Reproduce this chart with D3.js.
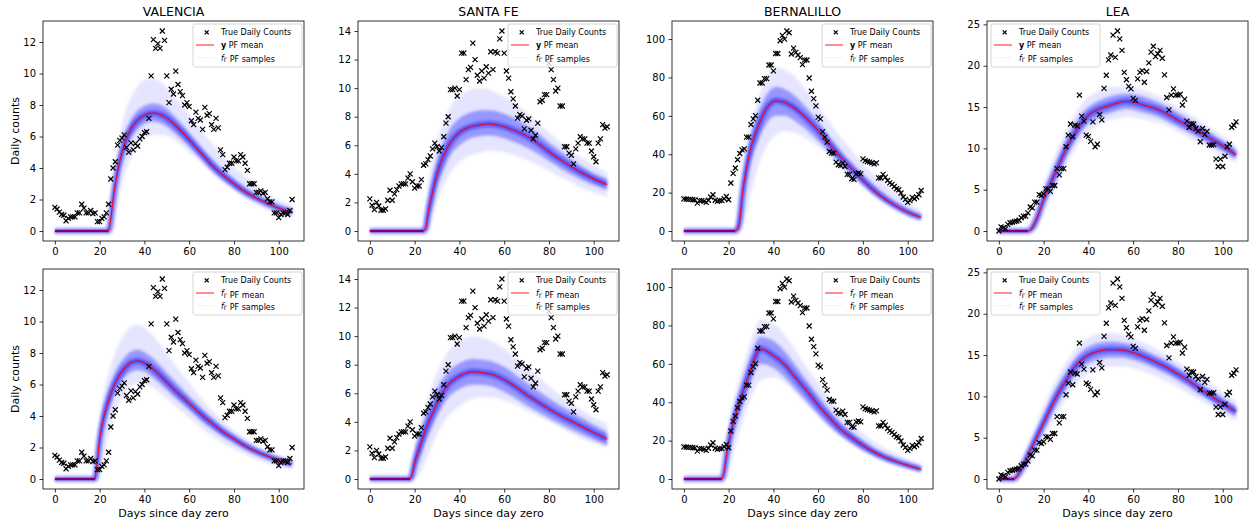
<!DOCTYPE html>
<html>
<head>
<meta charset="utf-8">
<script src="https://cdn.jsdelivr.net/npm/d3@7"></script>
<style>
  body { margin: 0; background: #fff; }
  svg { font-family: "DejaVu Sans", sans-serif; }
</style>
</head>
<body>
<svg id="chart" width="1249" height="522"></svg>
<script>
// observed daily counts, days 0..106
const valenciaCounts = [1.5,1.4,1.2,1.05,1.0,0.65,0.8,0.9,0.9,0.9,1.15,1.15,1.7,1.45,1.15,1.15,1.3,1.1,1.15,0.6,0.6,0.8,0.9,1.15,1.7,3.3,4.0,4.4,5.45,5.75,5.9,6.1,5.3,5.0,5.6,5.15,5.55,5.4,5.85,6.0,6.25,6.3,7.15,9.85,12.15,11.6,11.9,11.6,12.7,12.1,9.85,8.15,9.0,8.7,10.15,9.3,8.85,8.6,8.0,8.15,7.9,7.0,6.75,7.55,7.15,7.05,6.45,7.85,7.35,7.45,6.75,6.45,7.15,6.55,5.15,4.85,3.9,4.05,4.3,4.3,4.7,4.45,4.45,4.85,4.7,4.3,3.85,3.0,3.0,3.0,2.45,2.45,2.55,2.4,2.45,2.05,1.85,1.85,1.15,1.15,0.85,1.05,1.15,1.15,1.05,1.3,2.0];
const santaFeCounts = [2.25,1.8,1.5,2.0,1.75,1.45,1.45,1.55,2.15,2.85,2.15,2.6,2.9,3.15,3.3,3.3,3.3,3.7,4.0,3.45,3.0,3.15,3.15,3.6,4.6,4.7,5.0,5.25,5.75,6.15,5.9,5.6,5.85,6.6,7.55,8.0,9.9,9.9,10.0,9.45,9.9,12.45,12.45,10.6,11.3,11.45,13.15,12.0,10.9,10.5,11.2,10.7,11.5,11.05,12.55,11.3,12.55,12.45,13.45,14.0,12.45,11.2,10.7,9.75,9.25,8.75,7.9,8.15,8.05,7.15,7.75,7.85,7.05,6.45,6.7,7.55,9.05,9.15,9.55,9.55,11.75,11.3,10.6,9.8,10.0,8.75,8.75,5.9,5.9,5.45,5.3,4.7,5.75,6.15,6.6,6.45,6.45,6.15,6.15,5.6,5.2,4.85,6.15,6.45,7.45,7.2,7.3];
const bernalilloCounts = [16.7,16.6,16.5,16.5,16.3,16.2,14.5,15.8,15.8,15.4,14.9,16.0,17.7,18.9,16.0,15.4,15.8,15.8,16.8,18.0,16.3,25.0,30.0,32.8,37.1,40.4,42.3,42.8,48.9,48.9,55.5,58.4,60.1,68.1,77.1,77.1,79.4,79.4,86.5,86.5,83.4,92.5,92.5,99.1,101.9,100.0,104.2,103.3,92.2,95.3,93.1,91.7,90.3,86.7,89.1,89.1,79.7,72.8,69.0,65.2,59.3,58.4,51.8,48.9,46.3,41.4,40.6,40.6,35.9,34.5,34.1,35.4,33.6,29.5,29.5,27.2,26.9,29.8,30.2,29.8,37.6,36.7,36.2,35.9,35.5,35.0,35.5,27.7,27.6,29.5,28.1,26.3,25.1,24.3,23.2,22.0,21.5,19.8,17.7,16.5,14.9,15.8,17.5,16.8,17.7,18.9,21.1];
const leaCounts = [0.0,0.5,0.4,0.25,0.8,1.0,1.05,1.15,1.2,1.3,1.6,1.8,1.8,2.2,2.9,2.8,3.5,3.5,4.4,4.3,4.5,5.1,5.1,4.8,5.5,5.5,7.55,6.8,7.55,7.55,10.2,11.6,12.95,11.4,12.8,12.7,16.45,13.9,13.3,11.6,11.45,10.85,13.2,10.2,10.5,14.1,13.45,17.25,18.85,20.7,21.3,23.7,21.0,24.2,23.25,21.85,19.2,18.3,17.5,17.2,16.05,15.8,18.4,19.2,19.4,18.0,19.3,20.35,21.65,22.35,21.1,21.45,21.85,20.9,18.9,16.15,14.65,16.45,17.2,16.45,16.45,16.55,15.25,15.95,13.3,12.55,13.0,12.95,12.4,12.1,10.8,12.4,11.7,12.05,10.4,10.4,10.45,8.7,7.8,8.7,7.8,9.05,10.2,10.5,12.55,12.8,13.2];

// PF curves: knot days, mean, and sample spread (outer q05/q95, inner q25/q75)
const valTopKnots = [0,22,23,24,25,26,28,30,33,36,40,44,48,52,56,60,65,70,75,80,85,90,95,100,106];
const valTopMean = [0,0,0,0,0.8,2.0,3.8,5.0,6.2,6.9,7.35,7.5,7.35,6.95,6.4,5.8,5.0,4.2,3.55,3.0,2.5,2.1,1.75,1.45,1.2];
const valTopQ95 = [0,0,0.1,0.6,1.8,3.2,5.3,6.8,8.2,9.0,9.6,9.7,9.4,8.8,8.1,7.4,6.5,5.6,4.8,4.1,3.5,2.9,2.4,1.95,1.65];
const valTopQ05 = [0,0,0,0,0,0,1.5,3.0,4.3,5.2,5.9,6.1,6.1,5.9,5.5,5.0,4.4,3.7,3.1,2.6,2.1,1.7,1.35,1.05,0.85];
const valTopQ75 = [0,0,0,0.1,1.2,2.6,4.4,5.7,6.8,7.5,7.95,8.1,7.95,7.5,6.9,6.25,5.4,4.6,3.9,3.3,2.75,2.3,1.9,1.6,1.35];
const valTopQ25 = [0,0,0,0,0.4,1.5,3.2,4.4,5.6,6.3,6.8,6.95,6.8,6.4,5.9,5.35,4.6,3.85,3.25,2.7,2.25,1.9,1.58,1.3,1.05];

const valBotKnots = [0,16,17,18,19,20,22,25,28,31,34,37,41,45,50,55,60,65,70,75,80,85,90,95,100,106];
const valBotMean = [0,0,0,0,1.2,2.5,4.0,5.4,6.4,7.0,7.4,7.5,7.3,6.85,6.15,5.45,4.8,4.15,3.55,3.0,2.55,2.1,1.75,1.45,1.2,0.95];
const valBotQ95 = [0,0,0.2,0.9,2.5,3.8,5.6,7.2,8.4,9.2,9.7,9.8,9.5,8.9,8.0,7.0,6.1,5.2,4.4,3.7,3.1,2.6,2.15,1.8,1.5,1.25];
const valBotQ05 = [0,0,0,0,0,0.3,1.6,3.4,4.6,5.4,5.9,6.1,6.0,5.7,5.1,4.5,3.9,3.3,2.75,2.3,1.9,1.55,1.25,1.0,0.8,0.65];
const valBotQ75 = [0,0,0,0.3,2.0,3.3,4.8,6.1,7.1,7.7,8.1,8.2,7.95,7.5,6.75,6.0,5.25,4.55,3.9,3.3,2.8,2.35,1.95,1.6,1.35,1.1];
const valBotQ25 = [0,0,0,0,0.6,1.8,3.3,4.8,5.8,6.4,6.8,6.9,6.75,6.3,5.65,5.0,4.4,3.75,3.2,2.7,2.3,1.9,1.55,1.3,1.05,0.85];

const sfTopKnots = [0,22,23,24,25,26,27,28,30,33,36,40,45,50,53,56,60,65,70,75,80,85,90,95,100,106];
const sfTopMean = [0,0,0,0,0.2,1.2,2.0,2.7,4.0,5.3,6.2,6.9,7.3,7.45,7.5,7.45,7.3,7.0,6.65,6.15,5.55,5.0,4.5,4.05,3.65,3.25];
const sfTopQ95 = [0,0,0.2,0.8,2.0,3.2,4.2,5.0,6.3,7.7,8.7,9.5,9.9,10.0,9.9,9.7,9.4,8.9,8.3,7.6,6.9,6.2,5.6,5.1,4.6,4.1];
const sfTopQ05 = [0,0,0,0,0,0,0.3,0.9,2.0,3.2,4.1,4.8,5.3,5.5,5.6,5.6,5.5,5.3,5.0,4.6,4.2,3.8,3.4,3.0,2.7,2.4];
const sfTopQ75 = [0,0,0,0.1,0.9,2.1,3.0,3.7,5.0,6.3,7.2,7.9,8.3,8.45,8.45,8.4,8.2,7.85,7.4,6.85,6.2,5.6,5.0,4.5,4.05,3.65];
const sfTopQ25 = [0,0,0,0,0,0.5,1.2,1.8,3.1,4.3,5.3,6.0,6.5,6.65,6.7,6.65,6.5,6.2,5.85,5.4,4.9,4.4,3.95,3.55,3.2,2.85];

const sfBotKnots = [0,16,17,18,19,20,22,25,28,31,35,40,46,50,55,60,65,70,75,80,85,90,95,100,106];
const sfBotMean = [0,0,0,0,0.4,1.15,2.1,3.5,4.6,5.6,6.6,7.2,7.5,7.45,7.3,6.95,6.45,5.9,5.4,4.9,4.45,4.05,3.65,3.25,2.78];
const sfBotQ95 = [0,0,0.1,0.6,1.5,2.4,3.6,5.2,6.6,7.8,8.9,9.7,10.0,9.9,9.6,9.1,8.5,7.8,7.2,6.5,5.9,5.3,4.8,4.3,3.9];
const sfBotQ05 = [0,0,0,0,0,0,0.3,1.3,2.4,3.4,4.4,5.1,5.6,5.7,5.7,5.5,5.2,4.8,4.4,4.0,3.6,3.2,2.8,2.5,2.2];
const sfBotQ75 = [0,0,0,0.2,1.0,1.9,3.0,4.5,5.6,6.6,7.5,8.1,8.4,8.35,8.2,7.85,7.3,6.75,6.2,5.65,5.15,4.7,4.25,3.8,3.3];
const sfBotQ25 = [0,0,0,0,0,0.5,1.3,2.6,3.7,4.7,5.7,6.3,6.6,6.6,6.45,6.1,5.65,5.15,4.7,4.25,3.85,3.45,3.1,2.75,2.35];

const berTopKnots = [0,21,22,23,24,25,26,28,30,33,36,41,45,50,55,60,65,70,75,80,85,90,95,100,106];
const berTopMean = [0,0,0,0,1,6,17.7,33,43.7,54,62,67.8,67,63.6,58.4,52.3,45.4,38.5,32.4,26.5,21,16.5,12.8,9.8,7.0];
const berTopQ95 = [0,0,0.5,3,12,22,31,45,56,68,78,85,84,80,73,65,57,49,42,35,29,24,19.5,15.5,11];
const berTopQ05 = [0,0,0,0,0,0,2,10,20,33,42,50,52,51,48,44,39,33,28,23,18,14,10.5,7.5,5];
const berTopQ75 = [0,0,0,0.5,5,13,24,39,50,61,69,75,74,70,64,57,49.5,42,35.5,29.5,24,19,15,11.5,8.3];
const berTopQ25 = [0,0,0,0,0,2,9,25,36,46,54,60,60,57,52.5,47,41,35,29.5,24,19,15,11.5,8.6,6.0];

const berBotKnots = [0,15,16,17,18,19,20,22,25,28,31,34,40,45,50,55,60,65,70,75,80,85,90,95,100,106];
const berBotMean = [0,0,0,0,4,12,19,29,40.5,51,61,67.8,64.3,59.6,52.7,45.8,38.5,32,26,21.5,17.5,14,11.2,9,7.1,5.0];
const berBotQ95 = [0,0,0.5,3,10,20,28,40,53,65,76,83,81,75,67,58,50,42,35,29,24,19.5,16,13,10.5,8];
const berBotQ05 = [0,0,0,0,0,1,4,13,25,36,45,51,53,50,45,39,33,27.5,22.5,18,14.5,11.5,9,7,5.5,3.5];
const berBotQ75 = [0,0,0,0.5,7,16,24,35,47,58,68,74,72,66.5,59,51,43.5,36,29.5,24.5,20,16,13,10.5,8.5,6.3];
const berBotQ25 = [0,0,0,0,1,7,13,23,34,44,54,60,58,53,46.5,40,33.5,27.5,22.5,18.5,15,12,9.5,7.6,6,4.2];

const leaTopKnots = [0,11,12,13,14,15,17,20,23,26,30,35,40,45,50,57,65,70,75,80,85,90,95,100,106];
const leaTopMean = [0,0,0,0,0.1,0.4,1.5,3.85,5.7,7.5,9.9,12.3,14.0,14.8,15.25,15.7,15.2,14.8,14.2,13.4,12.7,11.9,11.1,10.3,9.2];
const leaTopQ95 = [0,0,0.1,0.4,0.9,1.6,3.2,5.6,7.8,9.8,12.1,14.6,16.2,17.0,17.4,17.5,17.0,16.5,15.8,15.0,14.2,13.3,12.4,11.5,10.3];
const leaTopQ05 = [0,0,0,0,0,0,0.4,2.2,4.0,5.6,7.9,10.3,12.0,12.9,13.4,13.8,13.5,13.2,12.7,12.0,11.3,10.6,9.9,9.1,8.2];
const leaTopQ75 = [0,0,0,0.1,0.4,0.9,2.3,4.7,6.8,8.6,11.0,13.4,15.0,15.8,16.3,16.6,16.2,15.7,15.1,14.3,13.5,12.6,11.8,10.9,9.8];
const leaTopQ25 = [0,0,0,0,0,0.1,0.9,3.0,4.9,6.5,8.9,11.3,13.0,13.8,14.3,14.8,14.3,13.9,13.3,12.6,11.9,11.2,10.4,9.7,8.7];

const leaBotKnots = [0,5,6,7,8,10,12,15,20,25,30,35,40,45,50,55,60,65,70,75,80,85,90,95,100,106];
const leaBotMean = [0,0,0,0,0.3,1.2,2.3,4.0,6.8,9.6,11.9,13.9,15.0,15.5,15.65,15.6,15.3,14.8,14.15,13.5,12.7,11.85,10.9,10.0,9.15,8.15];
const leaBotQ95 = [0,0,0.1,0.4,1.0,2.3,3.6,5.6,8.8,11.8,14.1,16.0,17.1,17.6,17.7,17.5,17.1,16.5,15.8,15.0,14.2,13.3,12.4,11.5,10.6,9.4];
const leaBotQ05 = [0,0,0,0,0,0.2,0.9,2.4,4.9,7.5,9.7,11.6,12.8,13.4,13.6,13.6,13.4,13.0,12.4,11.8,11.1,10.3,9.5,8.7,7.9,7.0];
const leaBotQ75 = [0,0,0,0.1,0.6,1.8,3.0,4.8,7.8,10.7,13.0,14.9,16.0,16.5,16.6,16.5,16.2,15.6,14.95,14.3,13.45,12.6,11.6,10.7,9.8,8.75];
const leaBotQ25 = [0,0,0,0,0.1,0.7,1.6,3.2,5.9,8.6,10.9,12.9,14.0,14.5,14.7,14.7,14.4,13.95,13.35,12.7,11.95,11.1,10.2,9.35,8.5,7.55];

// axis ticks
const dayTicks = [0,20,40,60,80,100];
const valenciaTicks = [0,2,4,6,8,10,12];
const santaFeTicks = [0,2,4,6,8,10,12,14];
const bernalilloTicks = [0,20,40,60,80,100];
const leaTicks = [0,5,10,15,20,25];

const counties = ['VALENCIA', 'SANTA FE', 'BERNALILLO', 'LEA'];
const countySeries = [valenciaCounts, santaFeCounts, bernalilloCounts, leaCounts];
const countyTicks = [valenciaTicks, santaFeTicks, bernalilloTicks, leaTicks];
const curves = [
  [[valTopKnots, valTopMean, valTopQ05, valTopQ25, valTopQ75, valTopQ95],
   [sfTopKnots, sfTopMean, sfTopQ05, sfTopQ25, sfTopQ75, sfTopQ95],
   [berTopKnots, berTopMean, berTopQ05, berTopQ25, berTopQ75, berTopQ95],
   [leaTopKnots, leaTopMean, leaTopQ05, leaTopQ25, leaTopQ75, leaTopQ95]],
  [[valBotKnots, valBotMean, valBotQ05, valBotQ25, valBotQ75, valBotQ95],
   [sfBotKnots, sfBotMean, sfBotQ05, sfBotQ25, sfBotQ75, sfBotQ95],
   [berBotKnots, berBotMean, berBotQ05, berBotQ25, berBotQ75, berBotQ95],
   [leaBotKnots, leaBotMean, leaBotQ05, leaBotQ25, leaBotQ75, leaBotQ95]]
];

const svg = d3.select('#chart');
const colLeft = [43, 358, 672, 987];
const rowTop = [21, 269];
const pw = 261, ph = 220;
const blue = '#0000ff';

// soft edges for the sample spread
svg.append('defs').append('filter').attr('id', 'soft')
  .attr('x', '-5%').attr('y', '-5%').attr('width', '110%').attr('height', '110%')
  .append('feGaussianBlur').attr('stdDeviation', 1.6);

function legendLabel(text, kind) {
  // 'y' -> bold y, 'f' -> italic f with subscript Gamma
  if (kind === 'y') {
    text.append('tspan').attr('font-weight', 'bold').text('y');
  } else {
    text.append('tspan').attr('font-style', 'italic').text('f');
    text.append('tspan').attr('font-size', 6).attr('dy', 1.8).text('Γ');
    text.append('tspan').attr('dy', -1.8).text('');
  }
}

[0, 1].forEach(row => {
  counties.forEach((name, col) => {
    const counts = countySeries[col];
    const [knots, mean, q05, q25, q75, q95] = curves[row][col];
    const left = colLeft[col], top = rowTop[row];

    const x = d3.scaleLinear().domain([-5.3, 111.3]).range([left, left + pw]);
    const M = d3.max(counts);
    const y = d3.scaleLinear().domain([-0.05 * M, 1.05 * M]).range([top + ph, top]);

    const clipId = `clip-${row}-${col}`;
    svg.append('clipPath').attr('id', clipId)
      .append('rect').attr('x', left).attr('y', top).attr('width', pw).attr('height', ph);

    const plot = svg.append('g').attr('clip-path', `url(#${clipId})`);

    const band = (lo, hi) => d3.area()
      .x((d, j) => x(knots[j]))
      .y0((d, j) => y(lo[j]))
      .y1((d, j) => y(hi[j]))
      .curve(d3.curveMonotoneX)(knots);

    const line = d3.line()
      .x(d => x(d[0]))
      .y(d => y(d[1]))
      .curve(d3.curveMonotoneX);
    const meanPts = knots.map((k, j) => [k, mean[j]]);

    // sample spread
    const spread = plot.append('g').attr('filter', 'url(#soft)');
    spread.append('path').attr('d', band(q05, q95)).attr('fill', blue).attr('fill-opacity', 0.1);
    spread.append('path').attr('d', band(q25, q75)).attr('fill', blue).attr('fill-opacity', 0.34);
    spread.append('path').attr('d', line(meanPts)).attr('fill', 'none')
      .attr('stroke', blue).attr('stroke-opacity', 0.45).attr('stroke-width', 6);

    // flat zero part: samples and mean overlap -> purple
    const firstRise = mean.findIndex(v => v > 0);
    const flatEnd = knots[firstRise - 1];
    plot.append('line')
      .attr('x1', x(0)).attr('x2', x(flatEnd))
      .attr('y1', y(0)).attr('y2', y(0))
      .attr('stroke', '#7f007f').attr('stroke-width', 2.6);

    // PF mean
    plot.append('path')
      .attr('d', line(meanPts.slice(firstRise - 1)))
      .attr('fill', 'none').attr('stroke', '#ff0000').attr('stroke-opacity', 0.85).attr('stroke-width', 1.2);

    // observed counts
    const cross = d3.symbol(d3.symbolTimes, 18);
    svg.append('g').selectAll('path')
      .data(counts)
      .join('path')
      .attr('d', cross)
      .attr('transform', (d, i) => `translate(${x(i)},${y(d)})`)
      .attr('fill', 'none').attr('stroke', '#000').attr('stroke-width', 1.2);

    // axes
    const xAxis = svg.append('g')
      .attr('transform', `translate(0,${top + ph})`)
      .call(d3.axisBottom(x).tickValues(dayTicks).tickSize(3.5).tickPadding(3.5).tickSizeOuter(0));
    const yAxis = svg.append('g')
      .attr('transform', `translate(${left},0)`)
      .call(d3.axisLeft(y).tickValues(countyTicks[col]).tickSize(3.5).tickPadding(3.5).tickSizeOuter(0));
    [xAxis, yAxis].forEach(a => {
      a.select('.domain').remove();
      a.selectAll('line').attr('stroke', '#000').attr('stroke-width', 0.8);
      a.selectAll('text').attr('font-size', 10).attr('fill', '#000').attr('font-family', '"DejaVu Sans", sans-serif');
    });

    svg.append('rect')
      .attr('x', left).attr('y', top).attr('width', pw).attr('height', ph)
      .attr('fill', 'none').attr('stroke', '#000').attr('stroke-width', 0.8);

    if (row === 0) {
      svg.append('text')
        .attr('x', left + pw / 2).attr('y', top - 5)
        .attr('text-anchor', 'middle').attr('font-size', 12.5)
        .text(name);
    } else {
      svg.append('text')
        .attr('x', left + pw / 2).attr('y', top + ph + 28)
        .attr('text-anchor', 'middle').attr('font-size', 11)
        .text('Days since day zero');
    }
    if (col === 0) {
      svg.append('text')
        .attr('transform', `translate(19,${top + ph / 2}) rotate(-90)`)
        .attr('text-anchor', 'middle').attr('font-size', 11)
        .text('Daily counts');
    }

    // legend
    const lw = 109, lh = 43;
    const lx = col === 3 ? left + 4 : left + pw - 2 - lw;
    const ly = top + 3;
    const lg = svg.append('g').attr('font-size', 8);
    lg.append('rect')
      .attr('x', lx).attr('y', ly).attr('width', lw).attr('height', lh).attr('rx', 2)
      .attr('fill', '#fff').attr('fill-opacity', 0.8)
      .attr('stroke', '#cccccc').attr('stroke-width', 0.8);
    const rowsY = [ly + 8.3, ly + 21, ly + 33.7];
    lg.append('path').attr('d', d3.symbol(d3.symbolTimes, 12)())
      .attr('transform', `translate(${lx + 13.7},${rowsY[0]})`)
      .attr('fill', 'none').attr('stroke', '#000').attr('stroke-width', 1.2);
    lg.append('line').attr('x1', lx + 3).attr('x2', lx + 21).attr('y1', rowsY[1]).attr('y2', rowsY[1])
      .attr('stroke', '#ff0000').attr('stroke-opacity', 0.75).attr('stroke-width', 1.2);
    lg.append('line').attr('x1', lx + 3).attr('x2', lx + 21).attr('y1', rowsY[2]).attr('y2', rowsY[2])
      .attr('stroke', blue).attr('stroke-opacity', 0.06).attr('stroke-width', 1);

    lg.append('text').attr('x', lx + 28).attr('y', rowsY[0]).attr('dy', '0.35em').text('True Daily Counts');
    const t2 = lg.append('text').attr('x', lx + 28).attr('y', rowsY[1]).attr('dy', '0.35em');
    legendLabel(t2, row === 0 ? 'y' : 'f');
    t2.append('tspan').text(' PF mean');
    const t3 = lg.append('text').attr('x', lx + 28).attr('y', rowsY[2]).attr('dy', '0.35em');
    legendLabel(t3, 'f');
    t3.append('tspan').text(' PF samples');
  });
});
</script>
</body>
</html>
